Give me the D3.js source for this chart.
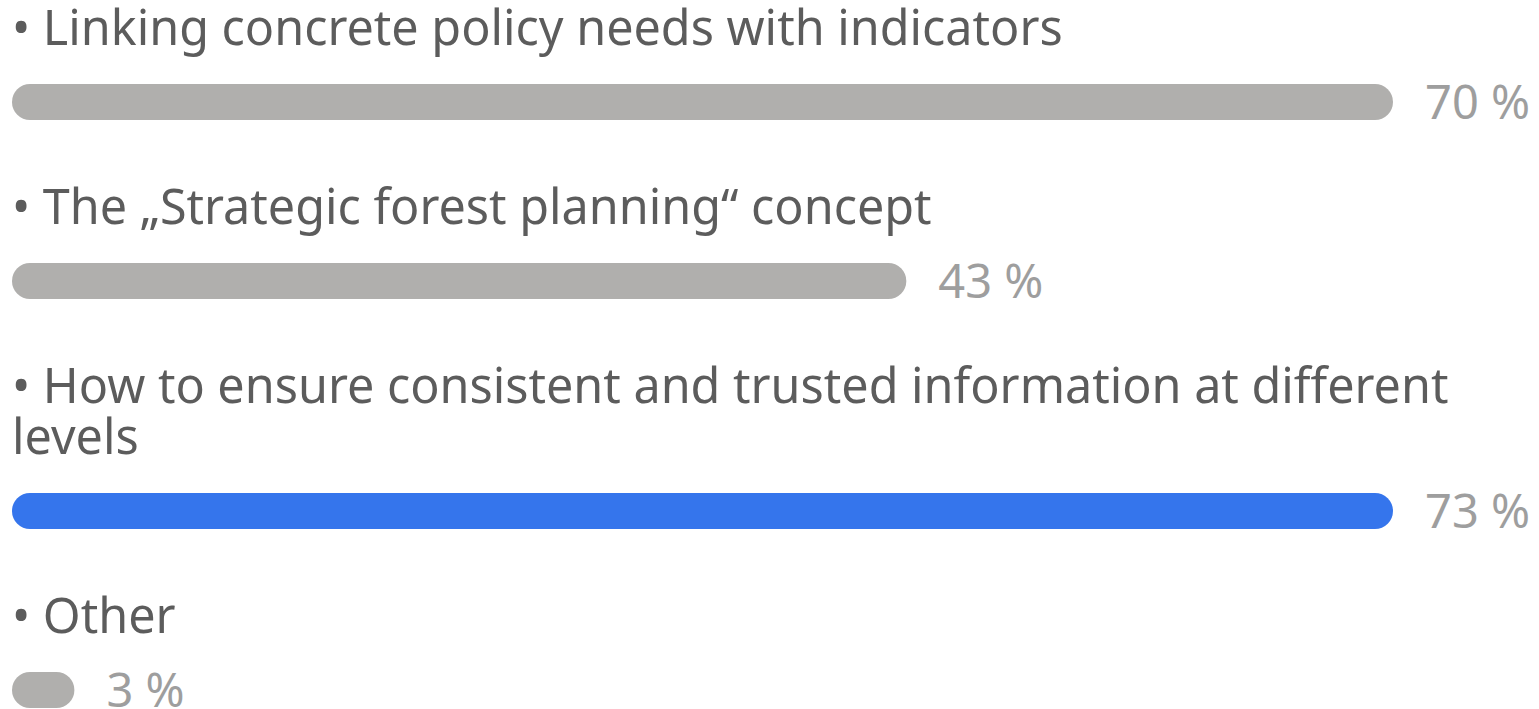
<!DOCTYPE html>
<html>
<head>
<meta charset="utf-8">
<script src="https://cdn.jsdelivr.net/npm/d3@7"></script>
<style>
  body { margin: 0; background: #fff; }
  svg { display: block; }
</style>
</head>
<body>
<div id="chart"></div>
<script>
// Poll results
const categories = [
    "Linking concrete policy needs with indicators",
    "The \u201eStrategic forest planning\u201c concept",
    "How to ensure consistent and trusted information at different levels",
    "Other"
];
const values = [70, 43, 73, 3];
const highlighted = [false, false, true, false];

const width = 1539;
const height = 709;
const left = 12;
const barRight = 1393;
const barH = 36;
const fontSize = 48.5;
const lineH = 51;
const wrapWidth = 1515;

const svg = d3.select("#chart")
    .append("svg")
    .attr("width", width)
    .attr("height", height);

// bars grow ~20.8px per percent and stop before the label column
const x = d3.scaleLinear()
    .domain([0, 66.4])
    .range([left, barRight])
    .clamp(true);

let baseline = 45;

categories.forEach((cat, i) => {
    const t = svg.append("text")
        .attr("x", left)
        .attr("y", baseline)
        .style("font-family", "'Noto Sans', sans-serif")
        .style("font-size", fontSize + "px")
        .style("fill", "#5c5c5c");

    // simple word wrap
    const words = ("\u2022 " + cat).split(" ");
    let line = [];
    let tspan = t.append("tspan").attr("x", left).attr("y", baseline);
    let lines = 1;
    words.forEach(w => {
        line.push(w);
        tspan.text(line.join(" "));
        if (tspan.node().getComputedTextLength() > wrapWidth && line.length > 1) {
            line.pop();
            tspan.text(line.join(" "));
            line = [w];
            tspan = t.append("tspan")
                .attr("x", left)
                .attr("y", baseline + lines * lineH)
                .text(w);
            lines++;
        }
    });
    const lastBase = baseline + (lines - 1) * lineH;

    const barTop = lastBase + 39;
    svg.append("rect")
        .attr("x", x(0))
        .attr("y", barTop)
        .attr("width", x(values[i]) - x(0))
        .attr("height", barH)
        .attr("rx", barH / 2)
        .attr("ry", barH / 2)
        .style("fill", highlighted[i] ? "#3575ec" : "#b0afad");

    svg.append("text")
        .attr("x", x(values[i]) + 32)
        .attr("y", barTop + barH - 1)
        .style("font-family", "'Noto Sans', sans-serif")
        .style("font-size", "47px")
        .style("fill", "#9e9e9e")
        .text(values[i] + " %");

    baseline = barTop + barH + 104;
});
</script>
</body>
</html>
